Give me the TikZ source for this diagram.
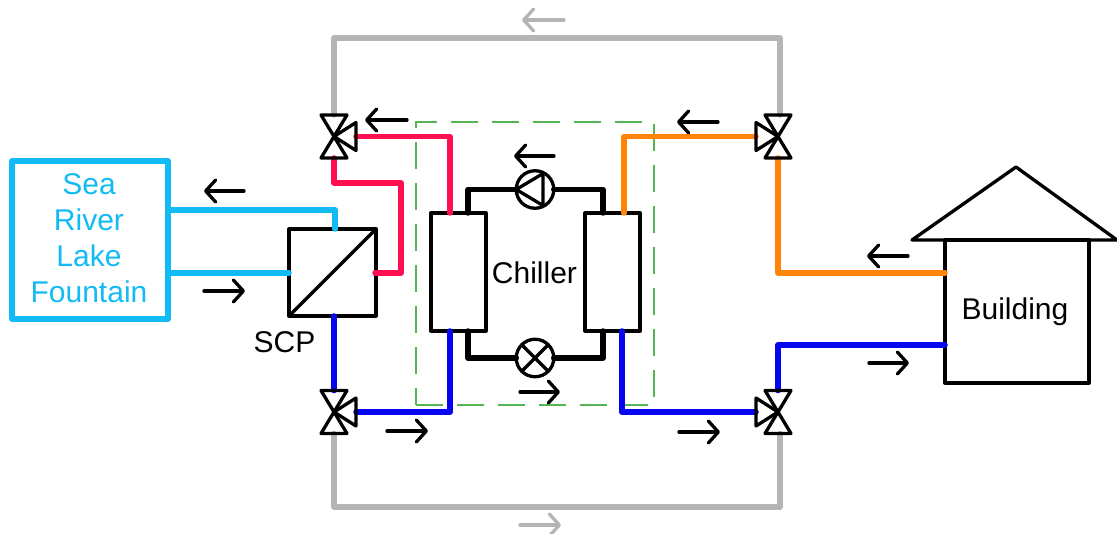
\documentclass[tikz,border=0pt]{standalone}
\usepackage{fontspec}
\setmainfont{Liberation Sans}
\usetikzlibrary{arrows.meta}
\definecolor{cyanp}{HTML}{12BBF3}
\definecolor{redp}{HTML}{FF0F4F}
\definecolor{orangep}{HTML}{FF8409}
\definecolor{bluep}{HTML}{0505F0}
\definecolor{grayp}{HTML}{B5B5B5}
\definecolor{greenp}{HTML}{55B555}
\tikzset{
  x=1pt,y=-1pt,
  txt/.style={font=\fontsize{30}{36}\selectfont},
  box/.style={draw=black,line width=3.3pt,inner sep=0pt,outer sep=0pt,line join=round},
  pipe/.style={line width=5.5pt,line cap=round,line join=round},
  blackpipe/.style={pipe,draw=black},
  flow/.style={line width=3.3pt,line cap=round,-{Straight Barb[length=10pt,width=22pt,line cap=round,round]}},
  port/.style={inner sep=0pt,outer sep=0pt,minimum width=44pt,minimum height=43pt},
  valveline/.style={line width=3.3pt,line join=round,line cap=round},
  round comp/.style={circle,draw=black,line width=3.3pt,inner sep=0pt,outer sep=0pt,minimum size=37.5pt,fill=white},
}
\newcommand{\valvebody}[1]{%
  \draw[valveline] ([xshift=-13pt]#1.north) -- ([xshift=13pt]#1.north) -- ([xshift=-13pt]#1.south) -- ([xshift=13pt]#1.south) -- cycle;}
\begin{document}
\begin{tikzpicture}
\useasboundingbox (0,0) rectangle (1117,534);
% chiller outline
\node[draw=greenp,line width=1.2pt,dash pattern=on 27pt off 14pt,inner sep=0pt,outer sep=0pt,minimum width=238pt,minimum height=283pt] (chillerframe) at (535,263.5) {};
% equipment
\node[box,draw=cyanp,line width=5.5pt,minimum width=156pt,minimum height=158pt] (source) at (90,240) {};
\node[txt,text=cyanp,align=center,inner sep=0pt] (sourcelabel) at (89,238) {Sea\\River\\Lake\\Fountain};
\node[box,minimum width=87pt,minimum height=87pt] (scp) at (332.5,272.5) {};
\draw[line width=3.3pt,line cap=round] (scp.south west) -- (scp.north east);
\node[txt,inner sep=0pt] (scplabel) at (284.5,342) {SCP};
\node[box,minimum width=55pt,minimum height=118pt] (evap) at (458.5,272) {};
\node[box,minimum width=55pt,minimum height=118pt] (cond) at (612.5,272) {};
\node[txt,inner sep=0pt] (chillerlabel) at (534.5,273) {Chiller};
\node[round comp] (pump) at (535,189.5) {};
\node[round comp] (expv) at (535,358) {};
\draw[line width=3.3pt,line join=round] (pump.west) -- ([xshift=8pt,yshift=-16pt]pump.center) -- ([xshift=8pt,yshift=16pt]pump.center) -- cycle;
\draw[line width=3.3pt] (expv.45) -- (expv.225) (expv.135) -- (expv.315);
\node[box,minimum width=144pt,minimum height=143pt] (building) at (1017,311.5) {};
\node[txt,inner sep=0pt] (buildinglabel) at (1015,312) {Building};
\draw[line width=3.3pt,line join=round] (912,240) coordinate (roofl) -- (1016,167) coordinate (roofa) -- (1117,240) coordinate (roofr) -- cycle;
% valves
\node[port] (vtl) at (334,136.5) {};
\node[port] (vtr) at (778,136.5) {};
\node[port] (vbl) at (334,412) {};
\node[port] (vbr) at (778,412) {};
% corner points
\coordinate (c1) at (168,210); \coordinate (c2) at (335,229);
\coordinate (c3) at (168,273); \coordinate (c4) at (289,273);
\coordinate (r1) at (375,273); \coordinate (r2) at (401,183);
\coordinate (e1) at (450,213); \coordinate (e2) at (450,331);
\coordinate (b1) at (468,213); \coordinate (b2) at (468,331);
\coordinate (b3) at (603,213); \coordinate (b4) at (603,331);
\coordinate (o1) at (624,213); \coordinate (b5) at (622,331);
\coordinate (bo) at (945,273); \coordinate (bb) at (945,345);
\coordinate (gt) at (556,38); \coordinate (gb) at (556,507);
% pipes
\draw[pipe,draw=grayp] (vtl.north) |- (gt) -| ([xshift=2pt]vtr.north);
\draw[pipe,draw=grayp] (vbl.south) |- (gb) -| ([xshift=2pt]vbr.south);
\draw[pipe,draw=cyanp] (c1) -| (c2);
\draw[pipe,draw=cyanp] (c3) -- (c4);
\draw[pipe,draw=redp] (r1) -- (r2 |- r1) -- (r2) -- (vtl.south |- r2) -- (vtl.south);
\draw[pipe,draw=redp] (vtl.east) -| (e1);
\draw[blackpipe] (b1) |- (pump.west);
\draw[blackpipe] (pump.east) -| (b3);
\draw[blackpipe] (b2) |- (expv.west);
\draw[blackpipe] (expv.east) -| (b4);
\draw[pipe,draw=bluep] (scp.south) ++(1.5,0) -- (vbl.north);
\draw[pipe,draw=bluep] (e2) |- (vbl.east);
\draw[pipe,draw=orangep] (o1) |- (vtr.west);
\draw[pipe,draw=orangep] (vtr.south) |- (bo);
\draw[pipe,draw=bluep] (b5) |- (vbr.west);
\draw[pipe,draw=bluep] (vbr.north) |- (bb);
% valve bodies
\foreach \v in {vtl,vtr,vbl,vbr}{\valvebody{\v}}
\draw[valveline] (vtl.center) -- ([yshift=-14pt]vtl.east) -- ([yshift=14pt]vtl.east) -- cycle;
\draw[valveline] (vbl.center) -- ([yshift=-14pt]vbl.east) -- ([yshift=14pt]vbl.east) -- cycle;
\draw[valveline] (vtr.center) -- ([yshift=-14pt]vtr.west) -- ([yshift=14pt]vtr.west) -- cycle;
\draw[valveline] (vbr.center) -- ([yshift=-14pt]vbr.west) -- ([yshift=14pt]vbr.west) -- cycle;
% flow arrows
\coordinate (f1a) at (407,120); \coordinate (f1b) at (365,120);
\coordinate (f2a) at (718,122); \coordinate (f2b) at (677,122);
\coordinate (f3a) at (554,156); \coordinate (f3b) at (514,156);
\coordinate (f4a) at (244,191); \coordinate (f4b) at (204,191);
\coordinate (f5a) at (204,291); \coordinate (f5b) at (245,291);
\coordinate (f6a) at (908,256); \coordinate (f6b) at (867,256);
\coordinate (f7a) at (869,363); \coordinate (f7b) at (909,363);
\coordinate (f8a) at (387,431); \coordinate (f8b) at (428,431);
\coordinate (f9a) at (679,432); \coordinate (f9b) at (720,432);
\coordinate (f10a) at (520,392); \coordinate (f10b) at (560,392);
\foreach \n in {1,...,10}{\draw[flow] (f\n a) -- (f\n b);}
\coordinate (g1a) at (564,20); \coordinate (g1b) at (522,20);
\coordinate (g2a) at (520,525); \coordinate (g2b) at (561,525);
\draw[flow,draw=grayp] (g1a) -- (g1b);
\draw[flow,draw=grayp] (g2a) -- (g2b);
\end{tikzpicture}
\end{document}
